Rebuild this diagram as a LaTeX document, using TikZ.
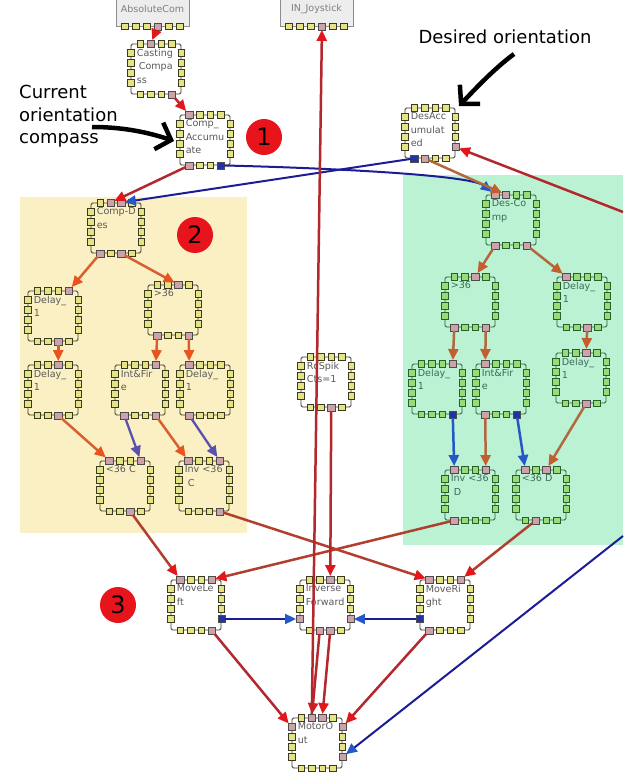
\documentclass[tikz,border=0pt]{standalone}
\usepackage{fontspec}
\setmainfont{DejaVu Sans}
\usetikzlibrary{arrows.meta}
\definecolor{panelY}{HTML}{FBF0C3}
\definecolor{panelG}{HTML}{BBF2D4}
\definecolor{portYc}{HTML}{E4E486}
\definecolor{portGc}{HTML}{98DC78}
\definecolor{edgeYc}{HTML}{3A3A1E}
\definecolor{edgeGc}{HTML}{2A5E2A}
\definecolor{txtY}{HTML}{5A5A5A}
\definecolor{txtG}{HTML}{3E6A58}
\definecolor{pinkp}{HTML}{CDA3AA}
\definecolor{bluep}{HTML}{2232A8}
\definecolor{lred}{HTML}{B3282D}
\definecolor{tred}{HTML}{E3161B}
\definecolor{lorange}{HTML}{D8602E}
\definecolor{torange}{HTML}{E8531E}
\definecolor{lpurple}{HTML}{5A50B2}
\definecolor{lbrown}{HTML}{B3673F}
\definecolor{tbrown}{HTML}{C45E2E}
\definecolor{lblue}{HTML}{2458C8}
\definecolor{ldblue}{HTML}{1C1C96}
\definecolor{lmix}{HTML}{B23E2E}
\definecolor{badgered}{HTML}{E8141B}
\tikzset{
  blkbox/.style={draw=#1, line width=0.8pt, rounded corners=1.5pt, minimum width=50pt, minimum height=50pt, inner sep=0pt},
  blktextY/.style={font=\fontsize{9.6}{13.5}\selectfont, text=txtY, align=left, inner sep=0pt},
  blktextG/.style={font=\fontsize{9.6}{13.5}\selectfont, text=txtG, align=left, inner sep=0pt},
  portY/.style={rectangle, draw=edgeYc, line width=0.6pt, fill=portYc, minimum size=6.5pt, inner sep=0pt},
  portG/.style={rectangle, draw=edgeGc, line width=0.6pt, fill=portGc, minimum size=6.5pt, inner sep=0pt},
  greybox/.style={draw=black!45, fill=black!7, line width=0.8pt, minimum width=73pt, minimum height=34pt, inner sep=0pt, font=\fontsize{9.5}{11}\selectfont, text=black!50},
  badge/.style={circle, fill=badgered, minimum size=36pt, inner sep=0pt, font=\fontsize{24}{24}\selectfont, text=black},
  anntext/.style={font=\fontsize{18}{22.5}\selectfont, align=left, inner sep=0pt, text=black},
  annarrow/.style={line width=4.5pt, draw=black, -{Straight Barb[length=13pt,width=28pt]}},
  lnred/.style={line width=2.5pt, draw=lred, -{Triangle[length=11pt,width=10pt,color=tred]}},
  lnmix/.style={line width=2.5pt, draw=lmix, -{Triangle[length=11pt,width=10pt,color=tred]}},
  lnorange/.style={line width=2.5pt, draw=lorange, -{Triangle[length=11pt,width=10pt,color=torange]}},
  lnpurple/.style={line width=2.3pt, draw=lpurple, -{Triangle[length=11pt,width=10pt,color=lpurple]}},
  lnbrown/.style={line width=2.5pt, draw=lbrown, -{Triangle[length=11pt,width=10pt,color=tbrown]}},
  lnblue/.style={line width=2.5pt, draw=lblue, -{Triangle[length=11pt,width=10pt,color=lblue]}},
  lndblue/.style={line width=2pt, draw=ldblue, -{Triangle[length=11pt,width=10pt,color=lblue]}},
}
% #1 name, #2 x, #3 y, #4 text, #5 Y or G
\newcommand\blk[5]{%
  \node[blkbox=edge#5c] (#1) at (#2,#3) {};
  \node[blktext#5, anchor=north west] (#1-t) at ([xshift=6pt,yshift=-5pt]#1.north west) {#4};
  \foreach \d [count=\i] in {-15.75,-5.25,5.25,15.75}{%
    \node[port#5] (#1-n\i) at ([xshift=\d pt]#1.north) {};
    \node[port#5] (#1-s\i) at ([xshift=\d pt]#1.south) {};
  }%
  \foreach \d [count=\i] in {16,6,-4,-14}{%
    \node[port#5] (#1-w\i) at ([yshift=\d pt]#1.west) {};
    \node[port#5] (#1-e\i) at ([yshift=\d pt]#1.east) {};
  }%
}
\newcommand\markport[2]{\filldraw[fill=#1, draw=black!70, line width=0.6pt] (#2.south west) rectangle (#2.north east);}
\begin{document}
\begin{tikzpicture}[x=1pt,y=-1pt]
\useasboundingbox (0,0) rectangle (623,778);
\fill[white] (0,0) rectangle (623,778);
% panels
\fill[panelY] (20,197) rectangle (247,533);
\fill[panelG] (403,175) rectangle (623,545);

% source boxes
\node[greybox] (abs) at (152.5,9) {AbsoluteCom};
\node[greybox] (inj) at (316.5,9) {IN\_Joystick};
\foreach \d [count=\i] in {-27.5,-16.5,-5.5,5.5,16.5,27.5}{%
  \node[portY] (abs-p\i) at ([xshift=\d pt]abs.south) {};
  \node[portY] (inj-p\i) at ([xshift=\d pt]inj.south) {};
}

% blocks
\blk{Casting}{156}{69}{Casting\\\hspace{2pt}Compa\\ss}{Y}
\blk{CompAcc}{205}{140}{Comp\_\\Accumu\\ate}{Y}
\blk{DesAcc}{430}{133}{DesAcc\\umulat\\ed}{Y}
\blk{CompDes}{116}{228}{Comp-D\\es}{Y}
\blk{DelayLa}{53}{316}{Delay\_\\1}{Y}
\blk{GtL}{173}{310}{>36}{Y}
\blk{DelayLb}{53}{390}{Delay\_\\1}{Y}
\blk{IntL}{140}{390}{Int\&Fir\\e}{Y}
\blk{DelayLc}{205}{390}{Delay\_\\1}{Y}
\blk{LtC}{125}{486}{<36 C}{Y}
\blk{InvC}{204}{486}{Inv <36\\\hspace{3pt}C}{Y}
\blk{DesComp}{511}{220}{Des-Co\\mp}{G}
\blk{GtR}{470}{302}{>36}{G}
\blk{DelayRa}{582}{302}{Delay\_\\1}{G}
\blk{DelayRb}{437}{389}{Delay\_\\1}{G}
\blk{IntR}{501}{389}{Int\&Fir\\e}{G}
\blk{DelayRc}{581}{378}{Delay\_\\1}{G}
\blk{InvD}{470}{495}{Inv <36\\\hspace{3pt}D}{G}
\blk{LtD}{541}{495}{<36 D}{G}
\blk{RcSpik}{326}{382}{RcSpik\\Cts=1}{Y}
\blk{MoveL}{196}{605}{MoveLe\\ft}{Y}
\blk{InvFwd}{325}{605}{Inverse\\Forward}{Y}
\blk{MoveR}{445}{605}{MoveRi\\ght}{Y}
\blk{Motor}{317}{743}{MotorO\\ut}{Y}

% highlighted ports
\foreach \p in {abs-p4,inj-p4,Casting-n2,Casting-s4,CompAcc-n1,CompAcc-s1,CompDes-n2,CompDes-n3,CompDes-s1,CompDes-s3,
  DelayLa-n4,DelayLa-s3,DelayLb-n3,DelayLb-s3,GtL-n3,GtL-s1,GtL-s4,IntL-n4,IntL-s1,IntL-s4,DelayLc-n1,DelayLc-s1,
  LtC-n1,LtC-n4,LtC-s3,InvC-n1,InvC-n4,InvC-s4,DesAcc-s2,DesAcc-e4,DesComp-n1,DesComp-n2,DesComp-s1,DesComp-s4,
  GtR-n3,GtR-s1,GtR-s4,DelayRa-n1,DelayRa-s3,DelayRb-n4,DelayRc-n3,DelayRc-s3,IntR-n1,IntR-s1,InvD-n1,InvD-n4,InvD-s1,
  LtD-n1,LtD-n3,LtD-s2,RcSpik-s3,MoveL-n1,MoveL-n4,MoveL-s4,InvFwd-n3,InvFwd-w4,InvFwd-e4,InvFwd-s2,InvFwd-s3,
  MoveR-n1,MoveR-n4,MoveR-s1,Motor-n2,Motor-n3,Motor-w1,Motor-e1,Motor-e4}{\markport{pinkp}{\p}}
\foreach \p in {CompAcc-s4,DesAcc-s1,MoveL-e4,MoveR-w4,IntR-s4,DelayRb-s4}{\markport{bluep}{\p}}

% badges
\node[badge] (b1) at (264,137) {1};
\node[badge] (b2) at (195,235) {2};
\node[badge] (b3) at (118,605) {3};

% annotations
\node[anntext, anchor=north west] (cur) at (19,85) {Current\\orientation\\compass};
\node[anntext] (des) at (505,37) {Desired orientation};
\coordinate (c1) at (92,127);
\coordinate (c2) at (174,141);
\draw[annarrow] (c1) .. controls (125,127) and (150,133) .. (c2);
\coordinate (d1) at (514,54);
\coordinate (d2) at (459,106);
\draw[annarrow] (d1) .. controls (495,68) and (476,88) .. (d2);

% top connectors
\draw[lnred] (abs-p4) -- (Casting-n2);
\draw[lnred] (Casting-s4) -- (CompAcc-n1);
\draw[lnred] (CompAcc-s1) -- (CompDes-n2);
\draw[lndblue] (DesAcc-s1) -- (CompDes-n3);
\draw[lndblue] (CompAcc-s4) .. controls (330,168) and (470,175) .. (DesComp-n1);
\draw[lnbrown] (DesAcc-s2) -- (DesComp-n2);
\coordinate (edgeR) at (623,212);
\draw[lnred] (edgeR) -- (DesAcc-e4);

% yellow panel
\draw[lnorange] (CompDes-s1) -- (DelayLa-n4);
\draw[lnorange] (CompDes-s3) -- (GtL-n3);
\draw[lnorange] (DelayLa-s3) -- (DelayLb-n3);
\draw[lnorange] (GtL-s1) -- (IntL-n4);
\draw[lnorange] (GtL-s4) -- (DelayLc-n1);
\draw[lnorange] (DelayLb-s3) -- (LtC-n1);
\draw[lnpurple] (IntL-s1) -- (LtC-n4);
\draw[lnorange] (IntL-s4) -- (InvC-n1);
\draw[lnpurple] (DelayLc-s1) -- (InvC-n4);

% green panel
\draw[lnbrown] (DesComp-s1) -- (GtR-n3);
\draw[lnbrown] (DesComp-s4) -- (DelayRa-n1);
\draw[lnbrown] (GtR-s1) -- (DelayRb-n4);
\draw[lnbrown] (GtR-s4) -- (IntR-n1);
\draw[lnbrown] (DelayRa-s3) -- (DelayRc-n3);
\draw[lnblue] (DelayRb-s4) -- (InvD-n1);
\draw[lnbrown] (IntR-s1) -- (InvD-n4);
\draw[lnblue] (IntR-s4) -- (LtD-n1);
\draw[lnbrown] (DelayRc-s3) -- (LtD-n3);

% to motor blocks
\draw[lnmix] (LtC-s3) -- (MoveL-n1);
\draw[lnmix] (InvD-s1) -- (MoveL-n4);
\draw[lnmix] (InvC-s4) -- (MoveR-n1);
\draw[lnmix] (LtD-s2) -- (MoveR-n4);
\draw[lnred] (RcSpik-s3) -- (InvFwd-n3);
\draw[lndblue] (MoveL-e4) -- (InvFwd-w4);
\draw[lndblue] (MoveR-w4) -- (InvFwd-e4);

% to motor out
\draw[lnred] (InvFwd-s2) -- (Motor-n2);
\draw[lnred] (InvFwd-s3) -- (Motor-n3);
\draw[lnred] (MoveL-s4) -- (Motor-w1);
\draw[lnred] (MoveR-s1) -- (Motor-e1);
\draw[lnred] (Motor-n2) -- (inj-p4);
\coordinate (edgeB) at (623,536);
\draw[lndblue] (edgeB) -- (Motor-e4);
\end{tikzpicture}
\end{document}
